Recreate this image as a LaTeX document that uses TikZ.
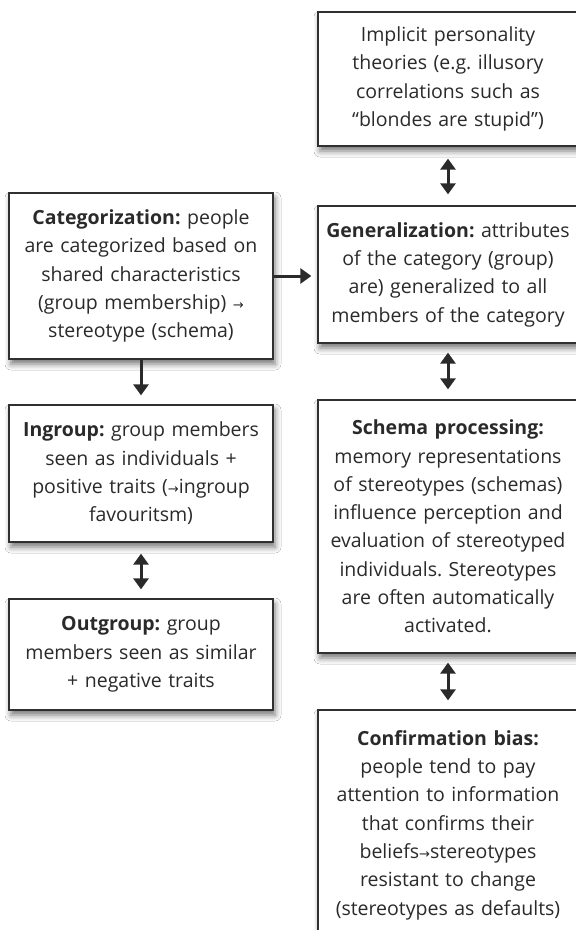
\documentclass[tikz,border=0pt]{standalone}
\usepackage{fontspec}
\setmainfont{Open Sans}
\newfontfamily\arrowfont{DejaVu Sans}
\usetikzlibrary{arrows.meta,shadows.blur}
\definecolor{ink}{HTML}{2A2A2A}
\definecolor{frame}{HTML}{303030}
\newcommand\smallarr{{\arrowfont\fontsize{13}{13}\selectfont →}}
\tikzset{
  box/.style={draw=frame, line width=1.3pt, fill=white, align=center,
    text=ink, inner sep=0pt, text width=256pt, minimum width=260pt,
    font=\fontsize{19.5}{28.3}\selectfont\frenchspacing,
    blur shadow={shadow xshift=2pt, shadow yshift=-5pt,
      shadow blur radius=6pt, shadow opacity=55}},
  tip/.tip={Triangle[width=15pt,length=11pt]},
  flow/.style={line width=3pt, draw=ink, -tip},
  dflow/.style={line width=3pt, draw=ink, tip-tip},
}
\begin{document}
\begin{tikzpicture}[x=1pt,y=-1pt]
\useasboundingbox (0,0) rectangle (576,930);
\clip (0,0) rectangle (576,930);
\fill[white] (0,0) rectangle (576,930);

% right column
\node[box, minimum height=134pt] (impl) at (448,79)
  {Implicit personality\\theories (e.g. illusory\\correlations such as\\“blondes are stupid”)};
\node[box, minimum height=137pt] (gen) at (448,274.5)
  {\textbf{Generalization:} attributes\\of the category (group)\\are) generalized to all\\members of the category};
\node[box, minimum height=253pt] (schema) at (448,526.5)
  {\textbf{Schema processing:}\\memory representations\\of stereotypes (schemas)\\influence perception and\\evaluation of stereotyped\\individuals. Stereotypes\\are often automatically\\activated.};
\node[box, minimum height=230pt] (conf) at (448,825)
  {\textbf{Confirmation bias:}\\people tend to pay\\attention to information\\that confirms their\\beliefs\smallarr stereotypes\\resistant to change\\(stereotypes as defaults)};

% left column
\node[box, minimum width=264pt, minimum height=166pt] (categ) at (141,276)
  {\textbf{Categorization:} people\\are categorized based on\\shared characteristics\\(group membership) \smallarr\\stereotype (schema)};
\node[box, minimum width=264pt, minimum height=137pt] (ingroup) at (141,473.5)
  {\textbf{Ingroup:} group members\\seen as individuals +\\positive traits (\smallarr ingroup\\favouritsm)};
\node[box, minimum width=264pt, minimum height=111pt] (outgroup) at (141,654.5)
  {\textbf{Outgroup:} group\\members seen as similar\\+ negative traits};

% connectors
\draw[flow, shorten >=6pt] (categ.east) -- (categ.east -| gen.west);
\draw[flow, shorten >=9pt] (categ.south) -- (ingroup.north);
\draw[dflow, shorten <=11pt, shorten >=9pt] (ingroup.south) -- (outgroup.north);
\draw[dflow, shorten <=12pt, shorten >=11pt] (impl.south) -- (gen.north);
\draw[dflow, shorten <=9pt, shorten >=10pt] (gen.south) -- (schema.north);
\draw[dflow, shorten <=9pt, shorten >=9pt] (schema.south) -- (conf.north);
\end{tikzpicture}
\end{document}
